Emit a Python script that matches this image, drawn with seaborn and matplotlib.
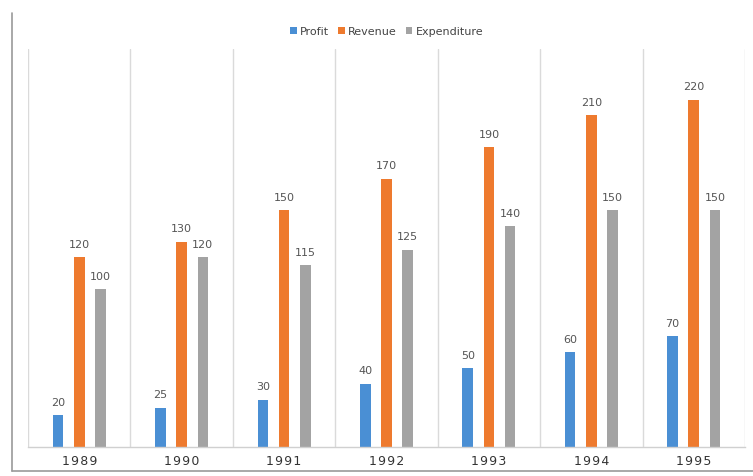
import matplotlib
matplotlib.use("Agg")
import matplotlib.pyplot as plt
from matplotlib.lines import Line2D
import seaborn as sns
import pandas as pd

years = ["1989", "1990", "1991", "1992", "1993", "1994", "1995"]
profit = [20, 25, 30, 40, 50, 60, 70]
revenue = [120, 130, 150, 170, 190, 210, 220]
expenditure = [100, 120, 115, 125, 140, 150, 150]
series_names = ["Profit", "Revenue", "Expenditure"]
colors = ["#4A8FD4", "#EE7A2E", "#A3A3A3"]

df = pd.DataFrame({
    "Year": years * 3,
    "Series": [s for s in series_names for _ in years],
    "Value": profit + revenue + expenditure,
})

sns.set_theme(style="white")
plt.rcParams["font.family"] = ["DejaVu Sans"]

fig = plt.figure(figsize=(7.53, 4.77), dpi=100)
ax = fig.add_axes([28 / 753, 29 / 477, 717 / 753, 398 / 477])

sns.barplot(data=df, x="Year", y="Value", hue="Series", order=years,
            hue_order=series_names, palette=colors, width=0.62, gap=0.5,
            saturation=1, linewidth=0, ax=ax, legend=True)

for cont in ax.containers:
    ax.bar_label(cont, fmt="%d", padding=6, fontsize=8, color="#555555")

ax.set_ylim(0, 252)
ax.set_xlim(-0.5, 6.5)
ax.set_yticks([])
ax.set_xlabel("")
ax.set_ylabel("")
ax.set_xticks(range(len(years)))
ax.set_xticklabels(["\u200a".join(y) for y in years], fontsize=9, color="#333333")
ax.tick_params(axis="x", length=0, pad=5)
ax.set_xticks([i - 0.5 for i in range(len(years) + 1)], minor=True)
ax.tick_params(axis="x", which="minor", length=0)
ax.grid(True, which="minor", axis="x", color="#DADADA", linewidth=1)
for side in ["top", "right", "left"]:
    ax.spines[side].set_visible(False)
ax.spines["bottom"].set_color("#D0D0D0")
ax.spines["bottom"].set_linewidth(1)

handles, labels = ax.get_legend_handles_labels()
ax.legend(handles, labels, loc="center", bbox_to_anchor=(0.5, 1.045),
          ncol=3, frameon=False, fontsize=8, handlelength=0.6,
          handleheight=0.6, handletextpad=0.3, columnspacing=0.8,
          labelcolor="#444444")

# outer chart frame
fig.add_artist(Line2D([12 / 753, 12 / 753], [5 / 477, 463 / 477],
                      color="#9A9A9A", linewidth=1.2, transform=fig.transFigure))
fig.add_artist(Line2D([12 / 753, 1.0], [5 / 477, 5 / 477],
                      color="#9A9A9A", linewidth=1.2, transform=fig.transFigure))

fig.savefig("out.png", dpi=100)
